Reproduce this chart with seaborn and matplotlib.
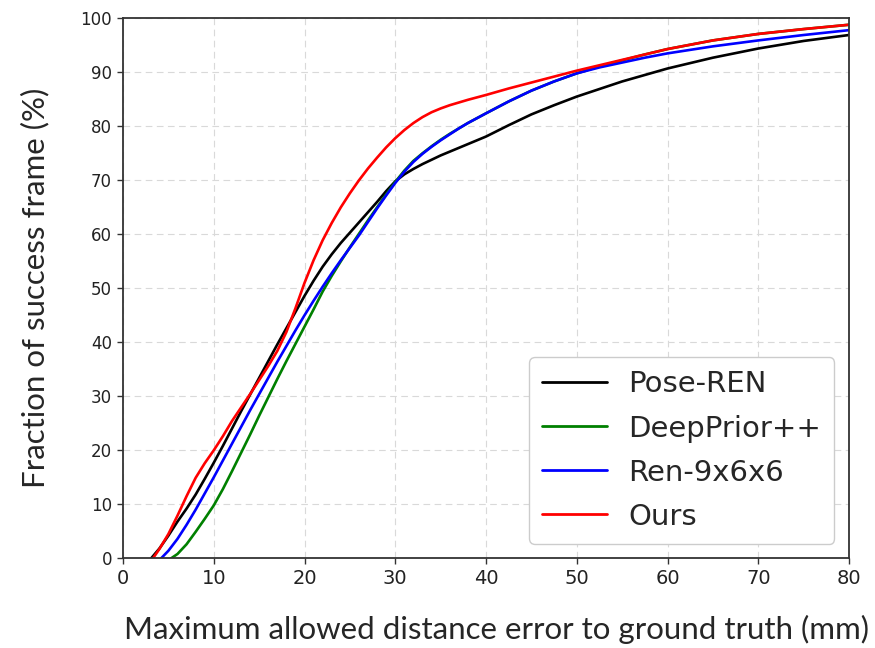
import matplotlib
matplotlib.use("Agg")
import matplotlib.pyplot as plt
import seaborn as sns
import pandas as pd

# Success-rate curves: allowed error (mm) -> fraction of frames (%)
methods = ["Pose-REN", "DeepPrior++", "Ren-9x6x6", "Ours"]
colors = {"Pose-REN": "black", "DeepPrior++": "green", "Ren-9x6x6": "blue", "Ours": "red"}

pose_ren_x = [3.1, 4, 5, 6, 7, 8, 9, 10, 11, 12, 13, 14, 15, 16, 17, 18, 19, 20, 21, 22, 23, 24, 25,
              26, 27, 28, 29, 30, 31, 32, 33, 34, 35, 36, 38, 40, 42.5, 45, 47.5, 50, 55, 60, 65,
              70, 75, 80]
pose_ren_y = [0.0, 1.8, 4.2, 6.8, 9.2, 11.8, 14.7, 17.7, 20.8, 24.0, 27.2, 30.3, 33.4, 36.5, 39.6,
              42.6, 45.6, 48.6, 51.4, 54.0, 56.3, 58.4, 60.3, 62.2, 64.1, 66.0, 68.0, 69.8, 71.1,
              72.1, 73.0, 73.8, 74.6, 75.3, 76.7, 78.1, 80.2, 82.2, 83.9, 85.5, 88.3, 90.7, 92.7,
              94.4, 95.8, 96.9]

deepprior_x = [5.3, 6, 7, 8, 9, 10, 11, 12, 13, 14, 15, 16, 17, 18, 19, 20, 21, 22, 23, 24, 25, 26,
               27, 28, 29, 30, 31, 32, 33, 34, 35, 36, 37, 38, 40, 42.5, 45, 47.5, 50, 52.5, 55,
               57.5, 60, 65, 70, 75, 80]
deepprior_y = [0.0, 0.8, 2.6, 4.9, 7.3, 9.8, 12.8, 16.1, 19.5, 22.9, 26.4, 29.8, 33.2, 36.5, 39.7,
               42.9, 46.1, 49.4, 52.3, 55.0, 57.6, 60.1, 62.6, 65.0, 67.4, 69.7, 71.8, 73.6, 75.0,
               76.3, 77.5, 78.6, 79.6, 80.6, 82.4, 84.6, 86.6, 88.3, 89.8, 91.1, 92.2, 93.3, 94.3,
               95.9, 97.1, 98.0, 98.8]

ren_x = [4.2, 5, 6, 7, 8, 9, 10, 11, 12, 13, 14, 15, 16, 17, 18, 19, 20, 21, 22, 23, 24, 25, 26,
         27, 28, 29, 30, 31, 32, 33, 34, 35, 36, 37, 38, 40, 42.5, 45, 47.5, 50, 52.5, 55, 57.5,
         60, 65, 70, 75, 80]
ren_y = [0.0, 1.4, 3.6, 6.2, 9.0, 12.0, 15.0, 18.1, 21.2, 24.3, 27.4, 30.4, 33.4, 36.4, 39.3, 42.2,
         45.0, 47.7, 50.3, 52.8, 55.2, 57.5, 59.8, 62.3, 64.8, 67.2, 69.5, 71.6, 73.4, 74.9, 76.2,
         77.4, 78.5, 79.6, 80.6, 82.4, 84.6, 86.6, 88.3, 89.8, 90.9, 91.8, 92.7, 93.5, 94.8, 95.9,
         96.9, 97.8]

ours_x = [3.3, 4, 5, 6, 7, 8, 9, 10, 11, 12, 13, 14, 15, 16, 17, 18, 19, 20, 21, 22, 23, 24, 25,
          26, 27, 28, 29, 30, 31, 32, 33, 34, 35, 36, 37, 38, 40, 42.5, 45, 47.5, 50, 52.5, 55,
          57.5, 60, 65, 70, 75, 80]
ours_y = [0.0, 1.7, 4.5, 7.9, 11.5, 14.9, 17.6, 20.0, 22.6, 25.4, 27.9, 30.4, 33.0, 35.6, 38.4,
          41.9, 46.3, 51.0, 55.2, 58.9, 62.1, 65.0, 67.6, 70.0, 72.2, 74.2, 76.1, 77.8, 79.3, 80.6,
          81.7, 82.6, 83.3, 83.9, 84.4, 84.9, 85.8, 87.0, 88.1, 89.2, 90.3, 91.3, 92.3, 93.3, 94.3,
          95.9, 97.1, 98.0, 98.8]

xticks = [0, 10, 20, 30, 40, 50, 60, 70, 80]
yticks = [0, 10, 20, 30, 40, 50, 60, 70, 80, 90, 100]

frames = []
for name, xs, ys in [("Pose-REN", pose_ren_x, pose_ren_y),
                     ("DeepPrior++", deepprior_x, deepprior_y),
                     ("Ren-9x6x6", ren_x, ren_y),
                     ("Ours", ours_x, ours_y)]:
    frames.append(pd.DataFrame({"error": xs, "fraction": ys, "method": name}))
df = pd.concat(frames, ignore_index=True)

sns.set_style("white")
plt.rcParams["font.family"] = ["DejaVu Sans"]

fig = plt.figure(figsize=(8.75, 6.48), dpi=100)
ax = fig.add_axes([0.1406, 0.1384, 0.8297, 0.8334])

sns.lineplot(data=df, x="error", y="fraction", hue="method", hue_order=methods,
             palette=colors, estimator=None, sort=False, linewidth=1.9, ax=ax)

ax.set_xlim(0, 80)
ax.set_ylim(0, 100)
ax.set_xticks(xticks)
ax.set_yticks(yticks)
ax.set_xticklabels([str(t) for t in xticks], family=["Liberation Sans Narrow", "DejaVu Sans"],
                   fontsize=14)
ax.set_yticklabels([str(t) for t in yticks], fontsize=12)
ax.tick_params(axis="both", direction="out", length=4, width=1, colors="#333333",
               bottom=True, left=True, pad=4)
for lbl in ax.get_xticklabels() + ax.get_yticklabels():
    lbl.set_color("#222222")

ax.grid(True, linestyle=(0, (6, 4)), color="#d9d9d9", linewidth=0.8)
for sp in ax.spines.values():
    sp.set_color("#333333")
    sp.set_linewidth(1.3)

ax.set_xlabel("Maximum allowed distance error to ground truth (mm)",
              family=["Lato", "DejaVu Sans"], fontsize=22.5, labelpad=18)
ax.xaxis.set_label_coords(0.515, -0.105)
ax.set_ylabel("Fraction of success frame (%)",
              family=["Lato", "DejaVu Sans"], fontsize=22.5, labelpad=22)

leg = ax.legend(loc="lower right", fontsize=21, frameon=True, fancybox=True,
                handlelength=2.2, handletextpad=0.75, borderaxespad=0.5, labelspacing=0.55,
                borderpad=0.45, edgecolor="#cccccc", framealpha=1.0)
for line in leg.get_lines():
    line.set_linewidth(2.0)

fig.savefig("out.png", dpi=100)
